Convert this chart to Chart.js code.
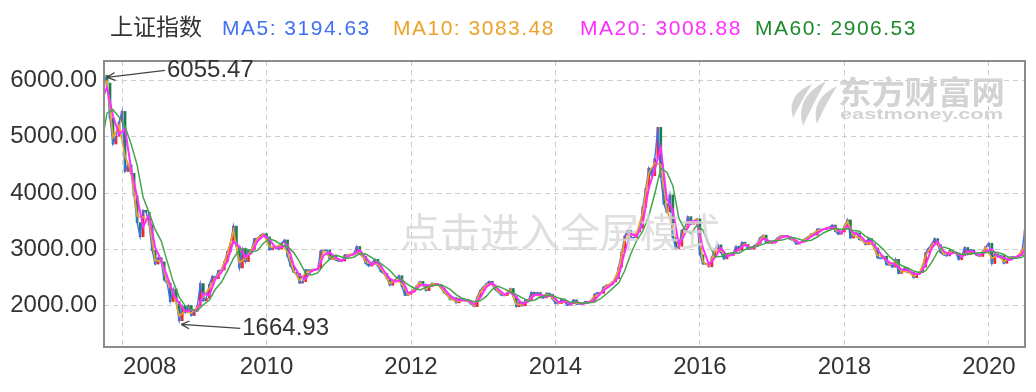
<!DOCTYPE html>
<html>
<head>
<meta charset="utf-8">
<script src="https://cdn.jsdelivr.net/npm/chart.js@4.4.1/dist/chart.umd.min.js"></script>
<style>
body { margin: 0; background: #fff; }
</style>
</head>
<body>
<canvas id="kline" width="1036" height="392"></canvas>
<script>
// half-month closes of the index, Oct 2007 .. 7 Jul 2020
const closes = [
    6092, 5955, 5330, 4871, 5008, 5262,
    5450, 4383, 4500, 4348, 3950, 3473, 3222, 3693, 3660, 3433, 2980, 2736, 2850, 2775, 2450, 2397, 2070, 2293, 2070, 1729, 1990, 1871, 2000, 1821,
    1900, 1991, 2390, 2082, 2130, 2373, 2520, 2477, 2620, 2633, 2780, 2959, 3100, 3412, 3050, 2668, 3000, 2779, 2980, 2996, 3190, 3195, 3250, 3277,
    3220, 2989, 3018, 3051, 3000, 3110, 3165, 2871, 2700, 2592, 2570, 2398, 2424, 2638, 2600, 2639, 2640, 2656, 2970, 2979, 2985, 2820, 2890, 2808,
    2790, 2790, 2900, 2905, 2900, 2928, 3050, 2911, 2870, 2743, 2700, 2762, 2820, 2701, 2600, 2568, 2480, 2359, 2430, 2469, 2530, 2333, 2180, 2199,
    2245, 2292, 2357, 2428, 2380, 2263, 2360, 2397, 2380, 2373, 2306, 2225, 2185, 2103, 2140, 2047, 2120, 2086, 2100, 2069, 2020, 1980, 2150, 2269,
    2330, 2385, 2430, 2366, 2280, 2237, 2180, 2178, 2230, 2301, 2160, 1979, 2060, 1994, 2100, 2098, 2236, 2175, 2230, 2141, 2135, 2220, 2200, 2116,
    2035, 2033, 2115, 2056, 2004, 2033, 2100, 2026, 2025, 2039, 2070, 2048, 2065, 2202, 2226, 2217, 2330, 2364, 2375, 2420, 2478, 2683, 2950, 3235,
    3336, 3210, 3203, 3310, 3373, 3748, 4084, 4442, 4308, 4612, 5166, 4277, 3805, 3664, 3965, 3206, 3005, 3053, 3338, 3383, 3580, 3445, 3510, 3539,
    2900, 2738, 2746, 2688, 2864, 3004, 3078, 2938, 2827, 2917, 2887, 2930, 3054, 2979, 3125, 3085, 3002, 3005, 3064, 3100, 3206, 3250, 3118, 3104,
    3113, 3159, 3213, 3242, 3241, 3223, 3176, 3155, 3090, 3117, 3132, 3192, 3222, 3273, 3251, 3361, 3354, 3349, 3378, 3393, 3430, 3317, 3266, 3307,
    3410, 3523, 3199, 3259, 3291, 3169, 3159, 3082, 3192, 3095, 3022, 2847, 2831, 2876, 2723, 2725, 2681, 2821, 2568, 2603, 2668, 2588, 2593, 2494,
    2570, 2585, 2682, 2941, 3021, 3091, 3189, 3078, 2938, 2899, 2882, 2979, 2942, 2933, 2815, 2886, 3031, 2905, 2991, 2929, 2891, 2871, 2968, 3050,
    3106, 2746, 2917, 2880, 2887, 2750, 2811, 2860, 2868, 2852, 2890, 2985, 3345
];
const firstOpen = 5900;

// moving averages: 16 Oct 2007, every month end, 7 Jul 2020
const ma10 = [5950,
    5990, 4986, 5199,
    4650, 4386, 3592, 3575, 3490, 2797, 2794, 2410, 2237, 1814, 1901, 1866,
    1968, 2159, 2312, 2488, 2630, 2914, 3334, 2764, 2834, 2992, 3194, 3270,
    3047, 3043, 3083, 2945, 2619, 2441, 2585, 2629, 2652, 2977, 2861, 2829,
    2790, 2904, 2921, 2946, 2775, 2747, 2731, 2576, 2389, 2459, 2382, 2194,
    2280, 2410, 2292, 2388, 2375, 2245, 2124, 2070, 2095, 2077, 1990, 2239,
    2371, 2382, 2248, 2179, 2283, 2024, 2011, 2099, 2190, 2163, 2199, 2137,
    2034, 2071, 2026, 2045, 2036, 2054, 2168, 2219, 2356, 2409, 2632, 3164,
    3242, 3283, 3654, 4353, 4536, 4499, 3699, 3396, 3041, 3372, 3479, 3532,
    2779, 2703, 2969, 2973, 2895, 2919, 2998, 3095, 3004, 3091, 3239, 3108,
    3148, 3235, 3228, 3160, 3110, 3177, 3260, 3334, 3350, 3389, 3345, 3297,
    3495, 3244, 3200, 3101, 3119, 2891, 2865, 2725, 2786, 2594, 2608, 2519,
    2581, 2876, 3074, 3106, 2909, 2955, 2935, 2868, 2937, 2945, 2876, 3030,
    2836, 2889, 2784, 2848, 2856, 2961,
    3083.48];
const ma20 = [5750,
    5880, 5370, 5040,
    5140, 4433, 3930, 3402, 3611, 3032, 2803, 2518, 2207, 2040, 1895, 1923,
    1903, 2213, 2179, 2472, 2587, 2788, 3143, 3045, 2862, 2934, 3143, 3243,
    3176, 3019, 3040, 3078, 2716, 2532, 2471, 2619, 2644, 2894, 2942, 2852,
    2794, 2874, 2908, 2985, 2848, 2726, 2776, 2617, 2472, 2422, 2465, 2223,
    2245, 2358, 2363, 2345, 2382, 2302, 2174, 2107, 2093, 2089, 2022, 2137,
    2328, 2403, 2291, 2194, 2235, 2150, 2023, 2073, 2186, 2194, 2158, 2184,
    2055, 2080, 2024, 2065, 2029, 2057, 2095, 2218, 2310, 2384, 2515, 2955,
    3279, 3232, 3451, 4090, 4418, 4805, 3888, 3700, 3067, 3278, 3497, 3501,
    3019, 2730, 2855, 3025, 2877, 2905, 3004, 3079, 3024, 3058, 3191, 3148,
    3122, 3207, 3237, 3183, 3113, 3143, 3227, 3284, 3355, 3375, 3393, 3289,
    3413, 3295, 3253, 3142, 3140, 2997, 2846, 2762, 2727, 2640, 2632, 2567,
    2555, 2723, 3019, 3137, 2963, 2911, 2949, 2862, 2963, 2954, 2896, 2964,
    3002, 2865, 2851, 2808, 2862, 2904,
    3008.88];
const ma60 = [5120,
    5420, 5480, 5350,
    5183, 4871, 4501, 3922, 3648, 3348, 3149, 2784, 2420, 2150, 1990, 1930,
    1907, 2013, 2098, 2288, 2413, 2616, 2839, 2992, 3017, 2947, 2980, 3107,
    3187, 3146, 3078, 3046, 2945, 2775, 2573, 2541, 2578, 2719, 2827, 2896,
    2863, 2840, 2859, 2922, 2914, 2853, 2783, 2706, 2622, 2504, 2453, 2370,
    2311, 2275, 2322, 2355, 2363, 2343, 2286, 2194, 2125, 2096, 2068, 2083,
    2162, 2289, 2341, 2296, 2240, 2193, 2136, 2082, 2094, 2151, 2179, 2179,
    2132, 2106, 2053, 2056, 2039, 2050, 2060, 2123, 2208, 2304, 2403, 2618,
    2916, 3155, 3321, 3591, 3986, 4438, 4370, 4131, 3552, 3348, 3281, 3425,
    3339, 3083, 2868, 2870, 2919, 2936, 2929, 2996, 3036, 3054, 3091, 3132,
    3154, 3159, 3189, 3209, 3178, 3146, 3161, 3218, 3289, 3338, 3374, 3352,
    3365, 3332, 3320, 3230, 3178, 3093, 2994, 2868, 2778, 2710, 2666, 2613,
    2585, 2615, 2766, 2960, 3040, 3004, 2941, 2907, 2925, 2926, 2938, 2938,
    2954, 2944, 2906, 2841, 2840, 2858,
    2906.53];

const yTicks = [2000, 3000, 4000, 5000, 6000];
const yearTicks = ['2008', '2010', '2012', '2014', '2016', '2018', '2020'];
const peak = { date: '2007-10-16', value: 6055.47 };
const trough = { date: '2008-10-31', value: 1664.93 };
const legendItems = [
    { text: 'MA5: 3194.63', color: '#4170f0', x: 222 },
    { text: 'MA10: 3083.48', color: '#eba227', x: 393 },
    { text: 'MA20: 3008.88', color: '#ff2dff', x: 580 },
    { text: 'MA60: 2906.53', color: '#1f8a2c', x: 755 }
];

// category labels: 16 Oct 2007, then the 15th and last day of each month, then 7 Jul 2020
const labels = ['2007-10-16', '2007-10-31'];
for (let yr = 2007; yr <= 2020; yr++) {
    for (let m = 1; m <= 12; m++) {
        if (yr === 2007 && m < 11) continue;
        if (yr === 2020 && m > 6) continue;
        const mm = String(m).padStart(2, '0');
        labels.push(yr + '-' + mm + '-15');
        labels.push(yr + '-' + mm + '-' + new Date(yr, m, 0).getDate());
    }
}
labels.push('2020-07-07');

// the moving averages sit on the first label, every month end and the last label
const maLabels = [labels[0]];
for (let i = 1; i < labels.length - 1; i += 2) maLabels.push(labels[i]);
maLabels.push(labels[labels.length - 1]);

const candles = closes.map((c, i) => [i === 0 ? firstOpen : closes[i - 1], c]);
const candleColors = candles.map(k => k[1] >= k[0] ? '#f0282a' : '#16804a');
const toPoints = arr => arr.map((v, i) => ({ x: maLabels[i], y: v }));

const FONT = '"Liberation Sans", Arial, sans-serif';

function drawArrowNote(ctx, tip, tx, ty, text) {
    ctx.strokeStyle = '#444';
    ctx.lineWidth = 1.3;
    ctx.beginPath();
    ctx.moveTo(tip.x, tip.y);
    ctx.lineTo(tx - 2, ty);
    const ang = Math.atan2(ty - tip.y, tx - 2 - tip.x);
    for (const d of [0.45, -0.45]) {
        ctx.moveTo(tip.x, tip.y);
        ctx.lineTo(tip.x + 9 * Math.cos(ang + d), tip.y + 9 * Math.sin(ang + d));
    }
    ctx.stroke();
    ctx.fillStyle = '#333';
    ctx.font = '24px ' + FONT;
    ctx.textAlign = 'left';
    ctx.textBaseline = 'middle';
    ctx.fillText(text, tx, ty);
}

function stretchText(ctx, text, x, y, width) {
    const w = ctx.measureText(text).width;
    ctx.save();
    ctx.translate(x, y);
    ctx.scale(width / w, 1);
    ctx.fillText(text, 0, 0);
    ctx.restore();
}

const decor = {
    id: 'decor',
    beforeDatasetsDraw(chart) {
        const ctx = chart.ctx;
        ctx.save();
        // eastmoney logo
        ctx.fillStyle = '#d3d3d3';
        const blades = [[793, 118, 812, 84, 7], [803, 126, 826, 81, 9], [817, 124, 837, 86, 7]];
        for (const [x0, y0, x1, y1, b] of blades) {
            ctx.beginPath();
            ctx.moveTo(x0, y0);
            ctx.quadraticCurveTo(x0 - b, (y0 + y1) / 2 - 6, x1, y1);
            ctx.quadraticCurveTo(x0 + b, (y0 + y1) / 2 + 2, x0, y0);
            ctx.fill();
        }
        ctx.font = 'bold 32px "Noto Sans CJK SC"';
        ctx.textBaseline = 'middle';
        ctx.textAlign = 'left';
        stretchText(ctx, '东方财富网', 838, 92, 167);
        ctx.font = 'bold 15px ' + FONT;
        stretchText(ctx, 'eastmoney.com', 840, 115, 163);
        ctx.restore();
    },
    afterDatasetsDraw(chart) {
        const ctx = chart.ctx;
        ctx.save();
        ctx.fillStyle = 'rgba(214,214,214,0.78)';
        ctx.font = '40px "Noto Sans CJK SC"';
        ctx.textAlign = 'center';
        ctx.textBaseline = 'middle';
        ctx.fillText('点击进入全屏模式', 560, 232);
        ctx.restore();
    },
    afterDraw(chart) {
        const { ctx, chartArea: a, scales: { x, y } } = chart;
        ctx.save();
        ctx.strokeStyle = '#8c8c8c';
        ctx.lineWidth = 2;
        ctx.strokeRect(a.left, a.top, a.right - a.left, a.bottom - a.top);

        // year labels under the axis
        ctx.fillStyle = '#333';
        ctx.font = '24px ' + FONT;
        ctx.textBaseline = 'middle';
        for (const t of x.ticks) {
            const px = x.getPixelForValue(t.value);
            const txt = labels[t.value].slice(0, 4);
            const w = ctx.measureText(txt).width;
            ctx.textAlign = px - w / 2 < a.left ? 'left' : 'center';
            ctx.fillText(txt, ctx.textAlign === 'left' ? px + 1 : px, 367);
        }

        // max / min notes
        const pi = labels.indexOf(peak.date);
        const ptip = { x: Math.max(x.getPixelForValue(pi), a.left + 3), y: y.getPixelForValue(peak.value) };
        drawArrowNote(ctx, ptip, ptip.x + 60, ptip.y - 7, peak.value.toFixed(2));
        const ti = labels.indexOf(trough.date);
        const ttip = { x: x.getPixelForValue(ti) + 2, y: y.getPixelForValue(trough.value) };
        drawArrowNote(ctx, ttip, ttip.x + 61, ttip.y + 4, trough.value.toFixed(2));

        // header
        ctx.textAlign = 'left';
        ctx.textBaseline = 'alphabetic';
        ctx.fillStyle = '#333';
        ctx.font = '23px "Noto Sans CJK SC"';
        ctx.fillText('上证指数', 110, 35);
        ctx.font = '21px ' + FONT;
        ctx.letterSpacing = '1.5px';
        for (const item of legendItems) {
            ctx.fillStyle = item.color;
            ctx.fillText(item.text, item.x, 35);
        }
        ctx.restore();
    }
};

const lineSet = (label, data, color, width, order) => ({
    type: 'line',
    label: label,
    data: toPoints(data),
    borderColor: color,
    borderWidth: width,
    pointRadius: 0,
    tension: 0,
    order: order
});

new Chart(document.getElementById('kline').getContext('2d'), {
    type: 'bar',
    data: {
        labels: labels,
        datasets: [
            {
                label: 'K',
                data: candles,
                backgroundColor: candleColors,
                barThickness: 2,
                order: 6
            },
            {
                type: 'line',
                label: 'MA5',
                data: closes,
                borderColor: '#4170f0',
                borderWidth: 1.4,
                pointRadius: 0,
                order: 5
            },
            lineSet('MA10', ma10, '#eba227', 1.6, 4),
            lineSet('MA20', ma20, '#ff2dff', 2, 3),
            lineSet('MA60', ma60, '#45a54b', 1.5, 2)
        ]
    },
    options: {
        responsive: false,
        animation: false,
        layout: { padding: { top: 61, right: 11, left: 0, bottom: 0 } },
        plugins: { legend: { display: false }, tooltip: { enabled: false } },
        scales: {
            x: {
                type: 'category',
                offset: false,
                afterBuildTicks: scale => {
                    scale.ticks = scale.ticks.filter(t => yearTicks.some(yr => labels[t.value] === yr + '-01-15'));
                },
                afterFit: scale => { scale.height = 45; },
                ticks: { display: false, autoSkip: false },
                grid: { color: '#cdcdcd', drawTicks: false, offset: false },
                border: { display: false, dash: [5, 4] }
            },
            y: {
                min: 1262,
                max: 6347,
                afterBuildTicks: scale => { scale.ticks = yTicks.map(v => ({ value: v })); },
                afterFit: scale => { scale.width = 104; },
                ticks: {
                    padding: 7,
                    color: '#333',
                    font: { family: FONT, size: 24 },
                    callback: v => v.toFixed(2)
                },
                grid: { color: '#cdcdcd', drawTicks: false },
                border: { display: false, dash: [5, 4] }
            }
        }
    },
    plugins: [decor]
});
</script>
</body>
</html>
